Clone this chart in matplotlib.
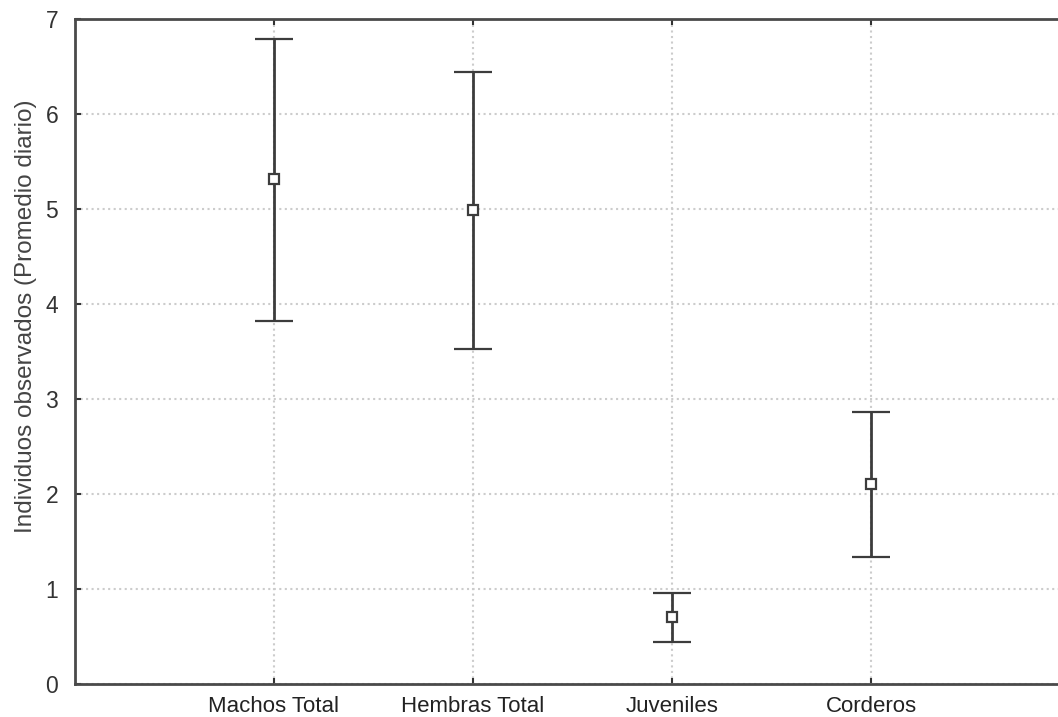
import matplotlib
matplotlib.use('Agg')
import matplotlib.pyplot as plt
import numpy as np

plt.rcParams['font.family'] = ['Liberation Sans', 'DejaVu Sans']

# datos
categorias = ['Machos Total', 'Hembras Total', 'Juveniles', 'Corderos']
media = np.array([5.32, 4.99, 0.71, 2.11])
limite_sup = np.array([6.79, 6.44, 0.96, 2.86])
limite_inf = np.array([3.82, 3.53, 0.44, 1.34])
y_ticks = [0, 1, 2, 3, 4, 5, 6, 7]

color = '#3c3c3c'

fig = plt.figure(figsize=(10.58, 7.17), dpi=100)
ax = fig.add_axes([75 / 1058, 33 / 717, 995 / 1058, 665 / 717])

x = np.arange(1, len(categorias) + 1)
ax.errorbar(x, media, yerr=[media - limite_inf, limite_sup - media],
            fmt='s', color=color, ecolor=color, mfc='white', mec=color,
            ms=7.5, mew=1.6, elinewidth=2, capsize=14, capthick=2, zorder=3)

ax.set_xlim(0, 5)
ax.set_ylim(0, 7)
ax.set_xticks(x)
ax.set_xticklabels(categorias)
ax.set_yticks(y_ticks)

ax.grid(True, linestyle=':', color='#cccccc', linewidth=1.5, zorder=0)
ax.set_axisbelow(True)

for s in ax.spines.values():
    s.set_color('#4a4a4a')
    s.set_linewidth(2)

ax.tick_params(axis='x', direction='in', length=4, width=1.5, top=True,
               labelsize=16, labelcolor='#222222', color='#333333', pad=9)
ax.tick_params(axis='y', direction='in', length=4, width=1.5,
               labelsize=16.5, labelcolor='#333333', color='#333333', pad=12)

ax.set_ylabel('Individuos observados (Promedio diario)', fontsize=17.5, color='#444444')
ax.yaxis.set_label_coords(-0.038, 0.553)

fig.savefig('out.png', dpi=100)
